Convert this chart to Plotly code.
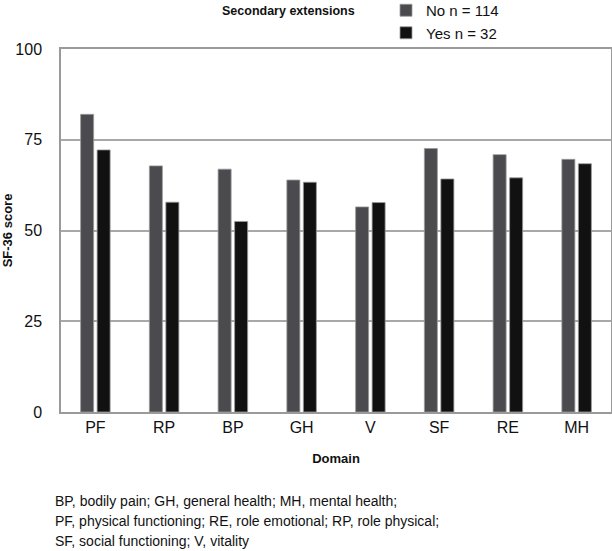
import plotly.graph_objects as go

domains = ["PF", "RP", "BP", "GH", "V", "SF", "RE", "MH"]
no_vals = [82.0, 67.8, 66.9, 63.9, 56.5, 72.6, 70.9, 69.6]
yes_vals = [72.2, 57.8, 52.5, 63.3, 57.7, 64.2, 64.5, 68.4]
series_names = ["No n = 114", "Yes n = 32"]
y_ticks = [0, 25, 50, 75, 100]
footnote_lines = [
    "BP, bodily pain; GH, general health; MH, mental health;",
    "PF, physical functioning; RE, role emotional; RP, role physical;",
    "SF, social functioning; V, vitality",
]

FONT = "Liberation Sans, Arial, sans-serif"
L, R, T, B = 61, 1, 49, 139
PH = 551 - T - B
PW = 612 - L - R

fig = go.Figure()
fig.add_trace(go.Bar(x=domains, y=no_vals, name=series_names[0],
                     marker=dict(color="#4b4b4f", line=dict(color="#9a9a9a", width=0.8))))
fig.add_trace(go.Bar(x=domains, y=yes_vals, name=series_names[1],
                     marker=dict(color="#111111", line=dict(color="#9a9a9a", width=0.8))))

fig.update_layout(
    width=612, height=551,
    margin=dict(l=L, r=R, t=T, b=B, autoexpand=False),
    paper_bgcolor="white", plot_bgcolor="white",
    barmode="group", bargap=0.52, bargroupgap=0.21,
    font=dict(family=FONT, size=15, color="#111111"),
    showlegend=True,
    legend=dict(x=(386 - L) / PW, y=1 + 55 / PH, xanchor="left", yanchor="top",
                bgcolor="rgba(0,0,0,0)", font=dict(size=15),
                tracegroupgap=0, itemwidth=30, traceorder="normal"),
    xaxis=dict(showgrid=False, showline=True, linecolor="#9a9a9a", linewidth=1.5,
               mirror=True, ticks="", tickfont=dict(size=16), automargin=False,
               title=dict(text="<b>Domain</b>", font=dict(size=13), standoff=19)),
    yaxis=dict(range=[0, 100], tickvals=y_ticks, showgrid=True, gridcolor="#a8a8a8",
               gridwidth=1.5, showline=True, linecolor="#9a9a9a", linewidth=1.5,
               mirror=True, ticks="outside", ticklen=14, tickcolor="rgba(0,0,0,0)",
               tickfont=dict(size=16), zeroline=False, automargin=False,
               title=dict(text="<b>SF-36 score</b>", font=dict(size=13), standoff=3)),
)

fig.add_annotation(text="<b>Secondary extensions</b>", xref="paper", yref="paper",
                   x=(288 - L) / PW, y=1 + (T - 11) / PH, xanchor="center", yanchor="middle",
                   showarrow=False, font=dict(size=12.5))

for i, line in enumerate(footnote_lines):
    fig.add_annotation(text=line, xref="paper", yref="paper",
                       x=(53 - L) / PW, y=-(501 + 20 * i - (T + PH)) / PH,
                       xanchor="left", yanchor="middle", align="left", showarrow=False,
                       font=dict(size=14))

fig.write_html("out.html", config={"displayModeBar": False},
               post_script="document.body.style.margin='0';")
